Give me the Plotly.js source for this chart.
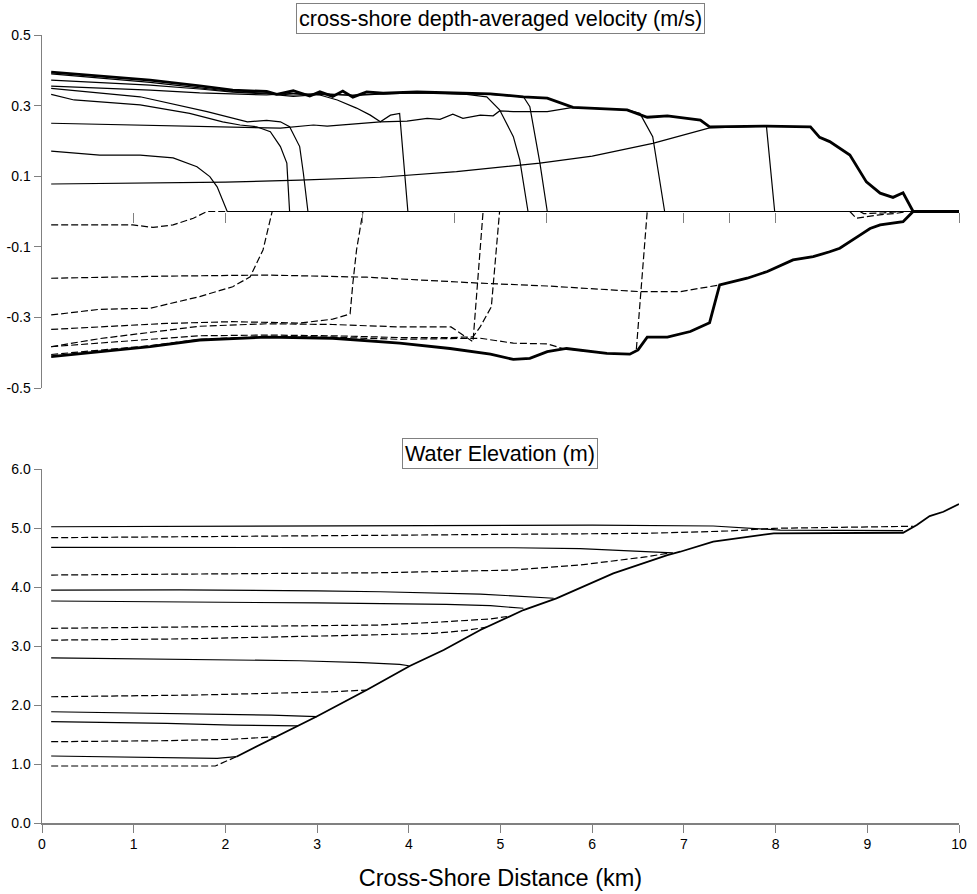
<!DOCTYPE html>
<html>
<head>
<meta charset="utf-8">
<script src="https://cdn.plot.ly/plotly-3.0.1.min.js"></script>
<style>html,body{margin:0;padding:0;background:#fff;}#chart{width:977px;height:894px;}</style>
</head>
<body>
<div id="chart"></div>
<script>
// ---------- Top panel: cross-shore depth-averaged velocity (m/s) ----------
// Envelopes (thick)
const velMaxX = [0.1,0.63,1.18,1.72,2.08,2.45,2.56,2.74,2.92,3.03,3.17,3.28,3.39,3.54,3.72,4.09,4.63,4.89,5.25,5.51,5.79,6.38,6.60,6.82,7.18,7.28,7.90,8.38,8.48,8.59,8.81,8.99,9.14,9.28,9.39,9.50,10.0];
const velMaxY = [0.395,0.384,0.372,0.356,0.344,0.340,0.332,0.342,0.327,0.339,0.326,0.341,0.324,0.339,0.335,0.339,0.335,0.333,0.325,0.321,0.295,0.288,0.267,0.271,0.259,0.240,0.242,0.240,0.210,0.198,0.160,0.084,0.052,0.040,0.053,0.0,0.0];
const velMinX = [0.1,0.63,1.18,1.72,2.45,3.17,3.90,4.45,4.89,5.14,5.32,5.51,5.72,6.16,6.41,6.50,6.60,6.82,7.07,7.28,7.39,7.69,7.91,8.19,8.41,8.59,8.70,8.92,9.03,9.14,9.39,9.50,10.0];
const velMinY = [-0.411,-0.397,-0.383,-0.364,-0.356,-0.359,-0.373,-0.388,-0.404,-0.419,-0.416,-0.397,-0.388,-0.402,-0.404,-0.392,-0.356,-0.356,-0.340,-0.315,-0.208,-0.189,-0.170,-0.137,-0.128,-0.114,-0.104,-0.067,-0.048,-0.038,-0.029,0.0,0.0];

// Flood snapshots (solid)
const velF1X = [0.1,0.63,1.07,1.43,1.69,1.83,1.91,2.02,10];
const velF1Y = [0.171,0.160,0.160,0.152,0.127,0.099,0.070,0,0];
const velF2X = [0.1,0.35,1.07,1.61,1.97,2.16,2.34,2.49,2.60,2.67,2.70,10];
const velF2Y = [0.332,0.316,0.302,0.278,0.254,0.245,0.240,0.226,0.184,0.137,0,0];
const velF3X = [0.1,1.07,1.80,2.24,2.45,2.60,2.70,2.81,2.85,2.90,10];
const velF3Y = [0.349,0.325,0.283,0.254,0.258,0.254,0.240,0.184,0.109,0,0];
const velF4X = [0.1,0.63,1.18,1.72,2.08,2.45,2.74,3.03,3.22,3.43,3.58,3.69,3.80,3.90,3.99,10];
const velF4Y = [0.355,0.350,0.344,0.336,0.332,0.330,0.335,0.330,0.316,0.293,0.273,0.254,0.273,0.278,0,0];
const velF5X = [0.1,0.63,1.18,1.72,2.08,2.45,2.74,3.03,3.39,3.72,4.09,4.63,4.85,4.99,5.14,5.21,5.30,10];
const velF5Y = [0.390,0.378,0.366,0.350,0.340,0.335,0.330,0.335,0.328,0.333,0.336,0.332,0.325,0.288,0.212,0.146,0,0];
const velF6X = [0.1,0.63,1.18,1.72,2.08,2.45,2.74,3.03,3.39,3.72,4.09,4.63,4.89,5.25,5.32,5.43,5.51,10];
const velF6Y = [0.372,0.365,0.358,0.347,0.338,0.333,0.326,0.332,0.330,0.334,0.337,0.334,0.332,0.325,0.297,0.137,0,0];
const velF7X = [0.1,0.63,1.18,1.72,2.08,2.45,2.60,2.96,3.11,3.69,3.98,4.20,4.34,4.48,4.59,4.78,4.92,4.99,5.14,5.51,5.79,6.38,6.52,6.66,6.79,10];
const velF7Y = [0.250,0.247,0.244,0.242,0.240,0.237,0.236,0.245,0.242,0.254,0.256,0.264,0.261,0.276,0.264,0.273,0.271,0.285,0.283,0.283,0.295,0.288,0.278,0.212,0,0];
const velF8X = [0.1,1.0,2.0,2.81,3.69,4.52,4.89,5.43,6.0,6.66,7.28,7.90,7.99,10];
const velF8Y = [0.078,0.080,0.083,0.089,0.097,0.113,0.122,0.137,0.157,0.193,0.237,0.242,0,0];

// Ebb snapshots (dashed)
const velE1X = [0.1,0.99,1.21,1.43,1.65,1.80,10];
const velE1Y = [-0.038,-0.038,-0.045,-0.038,-0.019,0,0];
const velE2X = [0.1,0.63,1.18,1.72,2.08,2.27,2.41,2.51,10];
const velE2Y = [-0.293,-0.277,-0.274,-0.241,-0.213,-0.185,-0.109,0,0];
const velE3X = [0.1,1.36,2.08,2.81,3.17,3.36,3.39,3.43,3.50,10];
const velE3Y = [-0.334,-0.317,-0.312,-0.316,-0.305,-0.290,-0.203,-0.109,0,0];
const velE4X = [0.1,0.63,1.72,2.45,3.17,3.90,4.46,4.70,4.81,10];
const velE4Y = [-0.383,-0.360,-0.325,-0.318,-0.320,-0.327,-0.327,-0.369,0,0];
const velE5X = [0.1,0.63,1.18,1.72,2.45,3.17,3.90,4.45,4.70,4.78,4.90,4.99,10];
const velE5Y = [-0.383,-0.372,-0.362,-0.352,-0.350,-0.352,-0.357,-0.357,-0.355,-0.326,-0.270,0,0];
const velE6X = [0.1,0.63,1.18,1.72,2.45,3.17,3.90,4.45,4.78,5.14,5.51,5.68,6.16,6.41,6.48,6.60,10];
const velE6Y = [-0.405,-0.393,-0.380,-0.362,-0.354,-0.356,-0.362,-0.360,-0.359,-0.373,-0.375,-0.388,-0.402,-0.404,-0.395,0,0];
const velE7X = [0.1,1.36,2.45,3.54,4.78,5.51,6.52,6.96,7.39,7.69,7.91,8.19,8.41,8.59,8.70,8.92,9.03,9.14,9.39,9.50,10];
const velE7Y = [-0.189,-0.183,-0.180,-0.186,-0.203,-0.211,-0.227,-0.227,-0.208,-0.189,-0.170,-0.137,-0.128,-0.114,-0.104,-0.067,-0.048,-0.038,-0.029,0,0];
const velE8X = [8.81,8.88,9.11,9.32,9.43];
const velE8Y = [0,-0.019,-0.010,-0.005,0];
const velE9X = [8.92,8.96,9.18,9.35];
const velE9Y = [0,-0.006,-0.004,0];

// ---------- Bottom panel: Water Elevation (m) ----------
const bedX = [2.12,2.56,2.99,3.54,4.01,4.38,4.78,5.25,5.61,6.23,6.82,6.96,7.32,7.98,9.39,9.54,9.68,9.83,10.0];
const bedY = [1.124,1.463,1.802,2.254,2.661,2.932,3.271,3.610,3.808,4.232,4.542,4.598,4.768,4.910,4.920,5.051,5.203,5.276,5.407];

// Flood water levels (solid)
const elvF1X = [0.1,1.0,1.91,2.12];           const elvF1Y = [1.136,1.113,1.096,1.124];
const elvF2X = [0.1,1.36,2.08,2.79];          const elvF2Y = [1.717,1.690,1.660,1.645];
const elvF3X = [0.1,1.72,2.5,3.0];            const elvF3Y = [1.886,1.847,1.830,1.802];
const elvF4X = [0.1,1.72,2.81,3.5,3.9,4.0];   const elvF4Y = [2.800,2.775,2.750,2.720,2.690,2.665];
const elvF5X = [0.1,1.5,3.0,4.41,4.89,5.25];  const elvF5Y = [3.763,3.750,3.730,3.707,3.683,3.640];
const elvF6X = [0.1,1.5,3.0,3.69,4.78,5.58];  const elvF6Y = [3.949,3.950,3.935,3.920,3.880,3.810];
const elvF7X = [0.1,2.0,4.0,5.14,5.87,6.71,6.88]; const elvF7Y = [4.673,4.675,4.670,4.666,4.650,4.598,4.580];
const elvF8X = [0.1,2.0,4.89,6.0,7.32,7.80,8.05,9.39]; const elvF8Y = [5.022,5.030,5.050,5.050,5.034,4.995,4.966,4.955];

// Ebb water levels (dashed)
const elvE1X = [0.1,1.0,1.89,2.12];           const elvE1Y = [0.966,0.966,0.966,1.124];
const elvE2X = [0.1,1.36,2.08,2.56];          const elvE2Y = [1.378,1.395,1.420,1.463];
const elvE3X = [0.1,1.72,3.17,3.54];          const elvE3Y = [2.140,2.170,2.225,2.254];
const elvE4X = [0.1,1.5,3.54,4.27,4.6,4.85];  const elvE4Y = [3.100,3.120,3.186,3.215,3.260,3.320];
const elvE5X = [0.1,1.5,3.69,4.41,4.89,5.07]; const elvE5Y = [3.300,3.320,3.356,3.412,3.460,3.500];
const elvE6X = [0.1,2.0,3.69,5.14,5.87,6.6,6.85]; const elvE6Y = [4.203,4.220,4.242,4.288,4.373,4.514,4.580];
const elvE7X = [0.1,1.36,4.89,6.6,7.5,7.98,9.5];  const elvE7Y = [4.836,4.850,4.880,4.910,4.950,4.995,5.030];

// Tick labels
const velTickVals = [-0.5,-0.3,-0.1,0.1,0.3,0.5];
const velTickText = ["-0.5","-0.3","-0.1","0.1","0.3","0.5"];
const velZeroTicks = [1,2,3.5,4.5,5.5,7,7.5,8,10];
const elvTickVals = [0,1,2,3,4,5,6];
const elvTickText = ["0.0","1.0","2.0","3.0","4.0","5.0","6.0"];
const distTickVals = [0,1,2,3,4,5,6,7,8,9,10];

// ---------- build ----------
const DASH = "7px,3px";
function tr(x, y, panel, dashed, width) {
  return {
    x: x, y: y, type: 'scatter', mode: 'lines',
    xaxis: panel === 'top' ? 'x' : 'x2',
    yaxis: panel === 'top' ? 'y' : 'y2',
    line: {color: '#000', width: width, dash: dashed ? DASH : 'solid'},
    hoverinfo: 'skip', showlegend: false
  };
}
const traces = [];
[[velF1X,velF1Y],[velF2X,velF2Y],[velF3X,velF3Y],[velF4X,velF4Y],[velF5X,velF5Y],[velF6X,velF6Y],[velF7X,velF7Y],[velF8X,velF8Y]]
  .forEach(p => traces.push(tr(p[0], p[1], 'top', false, 1.2)));
[[velE1X,velE1Y],[velE2X,velE2Y],[velE3X,velE3Y],[velE4X,velE4Y],[velE5X,velE5Y],[velE6X,velE6Y],[velE7X,velE7Y],[velE8X,velE8Y],[velE9X,velE9Y]]
  .forEach(p => traces.push(tr(p[0], p[1], 'top', true, 1.2)));
traces.push(tr(velMaxX, velMaxY, 'top', false, 2.8));
traces.push(tr(velMinX, velMinY, 'top', false, 2.8));

traces.push(tr(bedX, bedY, 'bot', false, 1.8));
[[elvF1X,elvF1Y],[elvF2X,elvF2Y],[elvF3X,elvF3Y],[elvF4X,elvF4Y],[elvF5X,elvF5Y],[elvF6X,elvF6Y],[elvF7X,elvF7Y],[elvF8X,elvF8Y]]
  .forEach(p => traces.push(tr(p[0], p[1], 'bot', false, 1.2)));
[[elvE1X,elvE1Y],[elvE2X,elvE2Y],[elvE3X,elvE3Y],[elvE4X,elvE4Y],[elvE5X,elvE5Y],[elvE6X,elvE6Y],[elvE7X,elvE7Y]]
  .forEach(p => traces.push(tr(p[0], p[1], 'bot', true, 1.2)));

const FONT = 'Liberation Sans, Arial, sans-serif';
const AX = '#808080';
const topDom = [0.552, 1];
const botDom = [0, 0.4492];
const TICKFONT = {family: FONT, size: 14, color: '#000'};

const layout = {
  width: 977, height: 894,
  margin: {l: 42, r: 18, t: 35, b: 71, pad: 0},
  paper_bgcolor: '#fff', plot_bgcolor: '#fff',
  font: {family: FONT, size: 14, color: '#000'},
  showlegend: false,
  xaxis: {
    domain: [0, 1], range: [0, 10], anchor: 'free',
    position: (topDom[0] + topDom[1]) / 2,
    showline: false, showgrid: false, zeroline: false,
    ticks: 'outside', ticklen: 10, tickwidth: 1, tickcolor: AX,
    tickmode: 'array', tickvals: velZeroTicks, showticklabels: false
  },
  yaxis: {
    domain: topDom, range: [-0.5, 0.5], anchor: 'x',
    showline: true, linecolor: AX, linewidth: 1.5, showgrid: false, zeroline: false,
    ticks: 'outside', ticklen: 7, tickwidth: 1, tickcolor: AX,
    tickmode: 'array', tickvals: velTickVals, ticktext: velTickText,
    tickfont: TICKFONT
  },
  xaxis2: {
    domain: [0, 1], range: [0, 10], anchor: 'y2',
    showline: true, linecolor: AX, linewidth: 1.5, showgrid: false, zeroline: false,
    ticks: 'outside', ticklen: 8, tickwidth: 1, tickcolor: AX,
    tickmode: 'array', tickvals: distTickVals,
    tickfont: TICKFONT,
    title: {text: 'Cross-Shore Distance (km)', font: {family: FONT, size: 23.5, color: '#000'}, standoff: 18}
  },
  yaxis2: {
    domain: botDom, range: [0, 6], anchor: 'x2',
    showline: true, linecolor: AX, linewidth: 1.5, showgrid: false, zeroline: false,
    ticks: 'outside', ticklen: 7, tickwidth: 1, tickcolor: AX,
    tickmode: 'array', tickvals: elvTickVals, ticktext: elvTickText,
    tickfont: TICKFONT
  },
  annotations: [
    {text: 'cross-shore depth-averaged velocity (m/s)', xref: 'paper', yref: 'paper',
     x: 0.4995, y: 1.0215, xanchor: 'center', yanchor: 'middle', showarrow: false,
     font: {family: FONT, size: 21.6, color: '#000'}, bordercolor: AX, borderwidth: 1, borderpad: 2},
    {text: 'Water Elevation (m)', xref: 'paper', yref: 'paper',
     x: 0.4995, y: 0.469, xanchor: 'center', yanchor: 'middle', showarrow: false,
     font: {family: FONT, size: 21.6, color: '#000'}, bordercolor: AX, borderwidth: 1, borderpad: 2}
  ]
};

Plotly.newPlot('chart', traces, layout, {staticPlot: true, displayModeBar: false});
</script>
</body>
</html>
